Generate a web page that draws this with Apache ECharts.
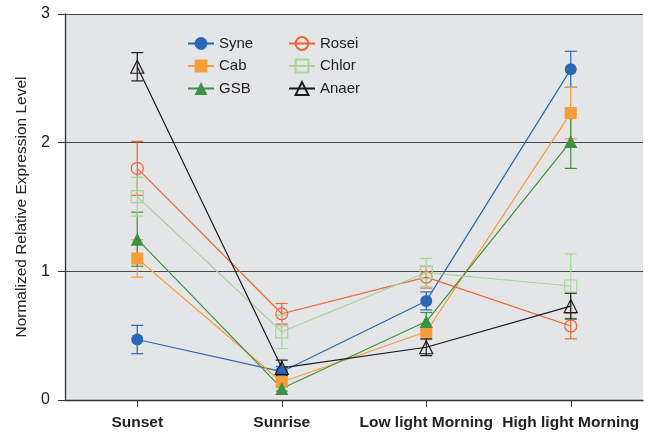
<!DOCTYPE html>
<html><head><meta charset="utf-8">
<script src="https://cdn.jsdelivr.net/npm/echarts@6/dist/echarts.min.js"></script>
<style>html,body{margin:0;padding:0;background:#fff}#c{width:651px;height:434px}</style>
</head><body><div id="c"></div>
<script>
var categories = ['Sunset', 'Sunrise', 'Low light Morning', 'High light Morning'];
var yTicks = [0, 1, 2, 3];
var syne = [0.47, 0.22, 0.77, 2.57];
var syneErr = [0.11, 0.04, 0.07, 0.14];
var cab = [1.10, 0.14, 0.53, 2.23];
var cabErr = [0.145, 0.03, 0.06, 0.2];
var gsb = [1.25, 0.09, 0.61, 2.01];
var gsbErr = [0.21, 0.02, 0.07, 0.21];
var rosei = [1.80, 0.67, 0.955, 0.575];
var roseiErr = [0.21, 0.08, 0.085, 0.1];
var chlor = [1.58, 0.53, 0.99, 0.886];
var chlorErr = [0.15, 0.13, 0.11, 0.25];
var anaer = [2.59, 0.25, 0.41, 0.73];
var anaerErr = [0.11, 0.06, 0.065, 0.1];

var seriesDefs = [
  {name:'Syne', data:syne, err:syneErr, color:'#2a67b5', symbol:'circle', filled:true, size:12},
  {name:'Cab', data:cab, err:cabErr, color:'#f89c3a', symbol:'rect', filled:true, size:12},
  {name:'GSB', data:gsb, err:gsbErr, color:'#3d9142', symbol:'triangle', filled:true, size:12},
  {name:'Rosei', data:rosei, err:roseiErr, color:'#ef6337', symbol:'circle', filled:false, size:12},
  {name:'Chlor', data:chlor, err:chlorErr, color:'#a6d69b', symbol:'rect', filled:false, size:12},
  {name:'Anaer', data:anaer, err:anaerErr, color:'#1a1a1a', symbol:'triangle', filled:false, size:12}
];

var series = [];
seriesDefs.forEach(function(d, si){
  var errData = d.data.map(function(v, i){ return [i, v - d.err[i], v + d.err[i]]; });
  series.push({
    type:'custom', name: d.name + '_err', silent:true, z: 2,
    data: errData,
    encode: {x: 0, y: [1, 2]},
    renderItem: function(params, api){
      var x = api.value(0);
      var lo = api.coord([x, api.value(1)]);
      var hi = api.coord([x, api.value(2)]);
      var w = 6;
      var st = {stroke: d.color, lineWidth: 1.2};
      return {type:'group', children:[
        {type:'line', shape:{x1:lo[0], y1:lo[1], x2:hi[0], y2:hi[1]}, style:st},
        {type:'line', shape:{x1:lo[0]-w, y1:lo[1], x2:lo[0]+w, y2:lo[1]}, style:st},
        {type:'line', shape:{x1:hi[0]-w, y1:hi[1], x2:hi[0]+w, y2:hi[1]}, style:st}
      ]};
    }
  });
  series.push({
    type:'line', name: d.name, data: d.data, z: 3,
    symbol: d.symbol, symbolSize: d.symbol === 'triangle' ? 13 : d.size,
    showAllSymbol: true,
    lineStyle: {color: d.color, width: 1.2},
    itemStyle: d.filled ? {color: d.color, borderWidth: 0} : {color: 'rgba(0,0,0,0)', borderColor: d.color, borderWidth: 1.2},
    emphasis: {disabled: true},
    animation: false
  });
});

var legendText = {fontSize: 15, color:'#222', fontFamily:'Liberation Sans, Arial, sans-serif'};
var chart = echarts.init(document.getElementById('c'), null, {renderer:'canvas'});
chart.setOption({
  animation: false,
  backgroundColor: '#ffffff',
  textStyle: {fontFamily: 'Liberation Sans, Arial, sans-serif'},
  grid: {left: 65, right: 8, top: 14, bottom: 34, show: true, backgroundColor: '#e4e5e7', borderWidth: 0},
  legend: [
    {data: ['Syne','Cab','GSB'], orient:'vertical', left: 182, top: 31, itemWidth: 26, itemHeight: 16, itemGap: 7.5,
     textStyle: legendText, selectedMode:false},
    {data: ['Rosei','Chlor','Anaer'], orient:'vertical', left: 283, top: 31, itemWidth: 26, itemHeight: 16, itemGap: 7.5,
     textStyle: legendText, selectedMode:false}
  ],
  xAxis: {
    type:'category', data: categories, boundaryGap: true,
    axisLine: {show: true, lineStyle: {color:'#333', width: 1.3}},
    axisTick: {show: true, alignWithLabel: true, length: 7, lineStyle:{color:'#333'}},
    axisLabel: {fontSize: 15.5, fontWeight: 'bold', color: '#222', margin: 15, interval: 0},
    splitLine: {show: false}
  },
  yAxis: {
    type:'value', min: yTicks[0], max: yTicks[yTicks.length-1], interval: 1,
    name: 'Normalized Relative Expression Level', nameLocation: 'middle', nameGap: 33,
    nameTextStyle: {fontSize: 15.5, color:'#222'},
    axisLine: {show: true, lineStyle: {color:'#333', width: 1.3}},
    axisTick: {show: true, length: 7, lineStyle:{color:'#333'}},
    axisLabel: {fontSize: 16, color:'#222', margin: 15},
    splitLine: {show: true, lineStyle: {color:'#4a4a4a', width: 1.2}}
  },
  series: series
});
</script></body></html>
